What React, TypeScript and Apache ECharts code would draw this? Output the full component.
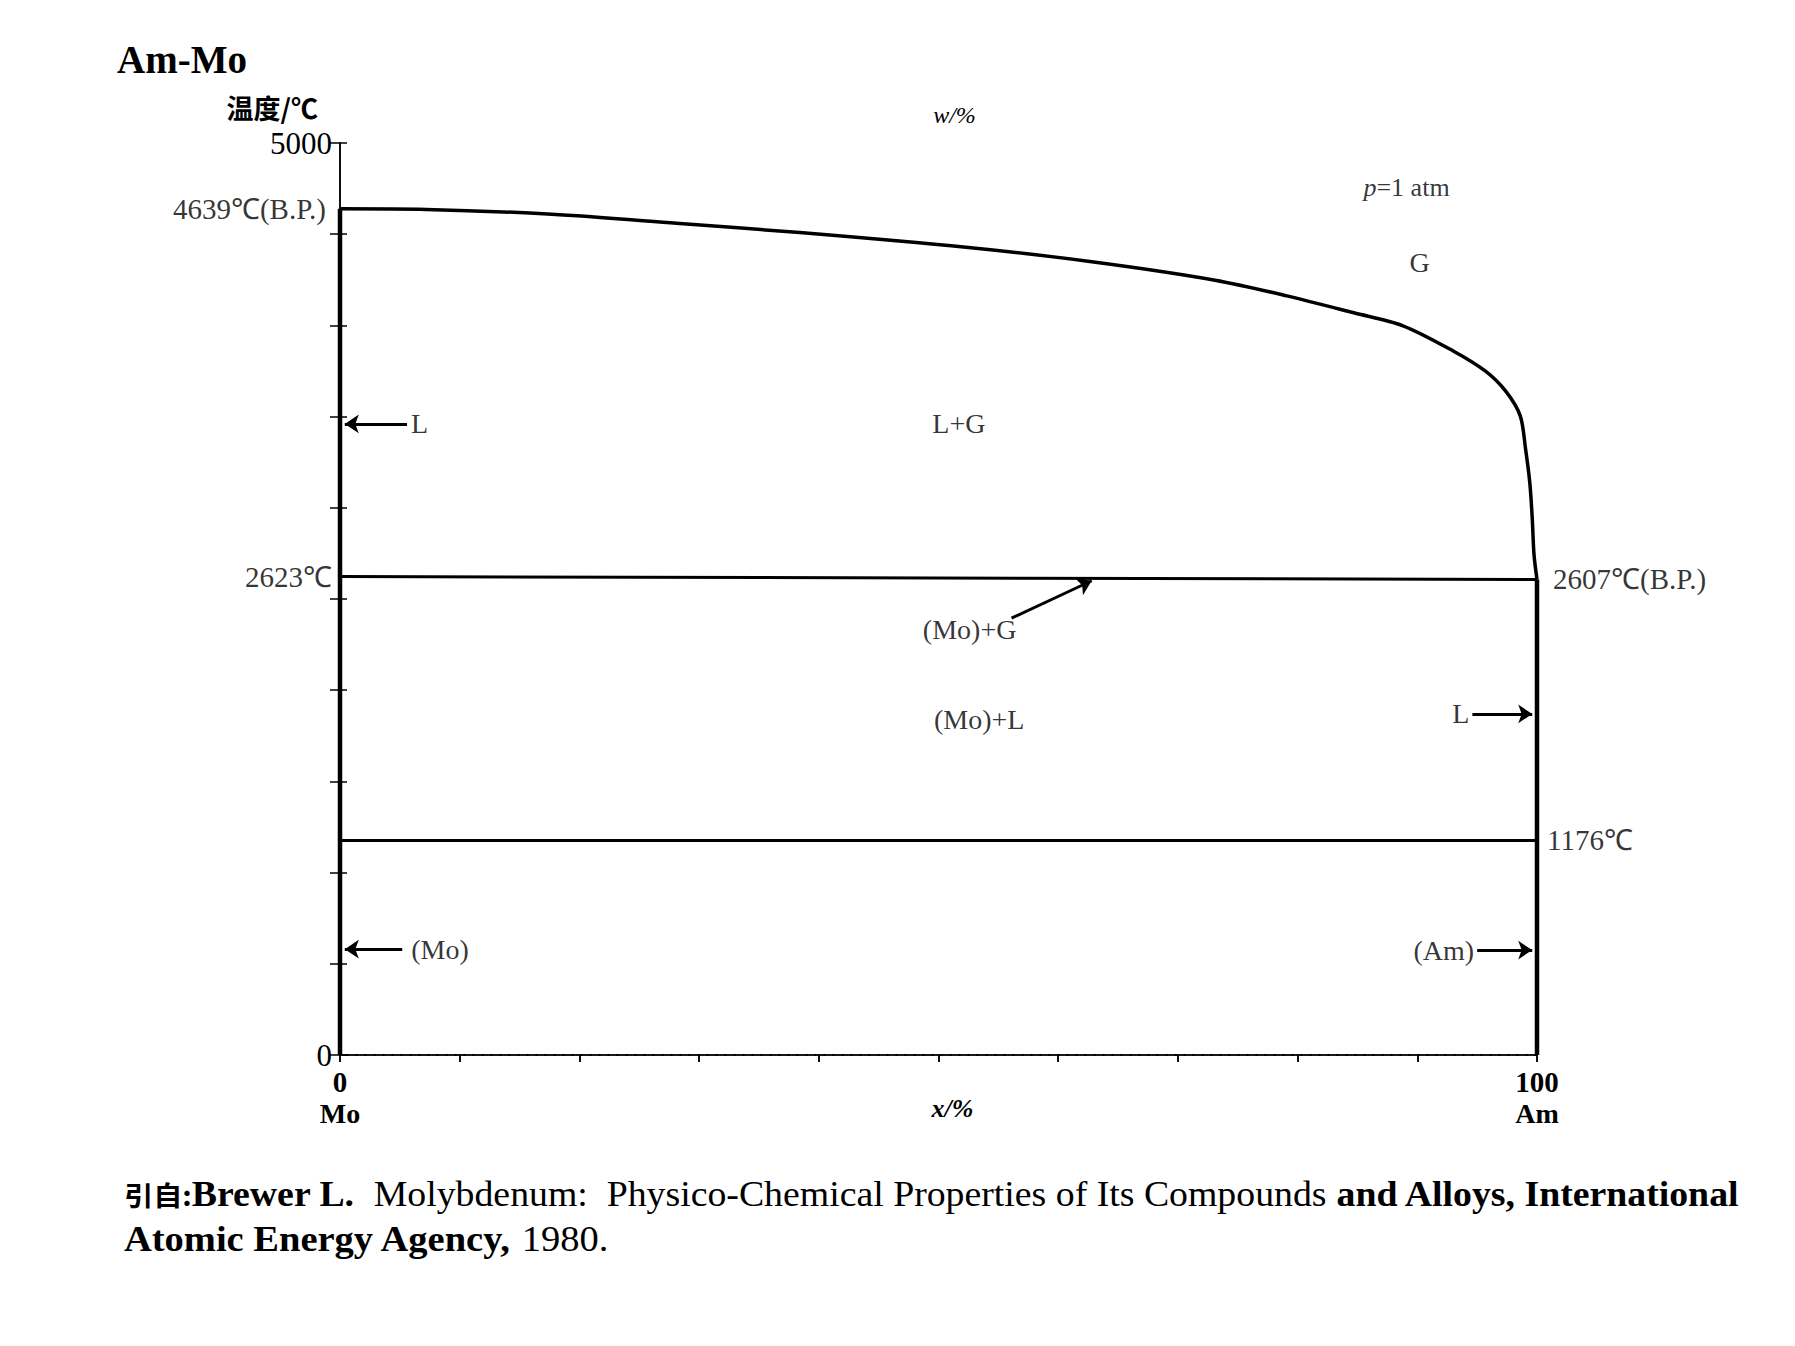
import React, { useEffect, useRef } from 'react';
import * as echarts from 'echarts';

// ---- data ----
const tempMin = 0;
const tempMax = 5000;
const tempStep = 500;
const compMin = 0;
const compMax = 100;
const compStep = 10;

// L / G boundary (x(Am) %, temperature °C)
const curveX = [0, 7.2, 17.7, 28.1, 38.4, 52.3, 62.8, 73.1, 79.1, 84.7, 88.8, 93.0, 95.7, 97.4, 98.6, 99.05, 99.4, 99.6, 99.75, 100];
const curveT = [4639, 4636, 4609, 4560, 4509, 4428, 4349, 4248, 4162, 4069, 3998, 3860, 3749, 3638, 3504, 3320, 3136, 2946, 2744, 2607];

const moBoilT = 4639;
const moMeltT = 2623;
const amBoilT = 2607;
const amMeltT = 1176;

// region labels
const noteText = ['L+G', '(Mo)+L', 'G', '{i|p}=1 atm', '(Mo)+G'];
const noteX = [51.7, 53.4, 90.2, 89.1, 52.6];
const noteT = [3462, 1841, 4344, 4755, 2331];

// arrows to the pure-element lines
const arrowText = ['L', '(Mo)', 'L', '(Am)'];
const arrowTailX = [5.6, 5.2, 94.6, 95.0];
const arrowTipX = [0.4, 0.4, 99.6, 99.6];
const arrowT = [3460, 580, 1870, 575];
const arrowSide = ['right', 'right', 'left', 'left'];
const arrowGap = [4, 9, 3, 3];

// (Mo)+G arrow
const gasArrowTail = [56.1, 2395];
const gasArrowTip = [62.8, 2600];

// point labels
const pointText = ['4639℃(B.P.)', '2623℃', '2607℃(B.P.)', '1176℃'];
const pointX = [0, 0, 100, 100];
const pointT = [4639, 2623, 2607, 1176];
const pointSide = ['left', 'left', 'right', 'right'];
const pointDist = [14, 8, 16, 10];

// citation text
const citeLine1 = '{c|引自:}{b|Brewer L.}{n|  Molybdenum:  Physico-Chemical Properties of Its Compounds }{b|and Alloys, International}';
const citeLine2 = '{b|Atomic Energy Agency,}{n| 1980.}';

const SERIF = '"Liberation Serif", "Times New Roman", serif';
const CJK = '"Noto Sans CJK SC", sans-serif';
const INK = '#000';

export default function App() {
  const ref = useRef<HTMLDivElement>(null);

  useEffect(() => {
    if (!ref.current) return;
    const chart = echarts.init(ref.current, undefined, { renderer: 'svg' });

    const labelFont = { fontFamily: SERIF, fontSize: 28, color: INK };
    const citeRich = {
      c: { fontFamily: CJK, fontSize: 27, fontWeight: 'bold', fill: INK },
      b: { fontFamily: SERIF, fontSize: 35, fontWeight: 'bold', fill: INK },
      n: { fontFamily: SERIF, fontSize: 35, fill: INK },
    };

    const option: any = {
      animation: false,
      backgroundColor: '#fff',
      grid: { left: 340, top: 143, width: 1197, height: 912, containLabel: false },
      xAxis: [
        {
          type: 'value',
          position: 'bottom',
          min: compMin,
          max: compMax,
          interval: compStep,
          name: 'x/%',
          nameLocation: 'middle',
          nameGap: 40,
          nameMoveOverlap: false,
          nameTextStyle: {
            fontFamily: SERIF,
            fontSize: 26,
            fontStyle: 'italic',
            fontWeight: 'bold',
            color: INK,
            padding: [0, 0, 0, 28],
          },
          axisLine: { lineStyle: { color: INK, width: 2 } },
          axisTick: { show: true, inside: false, length: 7, lineStyle: { color: INK, width: 1.5 } },
          splitLine: { show: false },
          axisLabel: {
            margin: 12,
            formatter: (v: number) => (v === compMin ? '{n|0}\n{e|Mo}' : v === compMax ? '{n|100}\n{e|Am}' : ''),
            rich: {
              n: { fontFamily: SERIF, fontSize: 29, fontWeight: 'bold', color: INK, lineHeight: 30 },
              e: { fontFamily: SERIF, fontSize: 28, fontWeight: 'bold', color: INK, lineHeight: 32 },
            },
          },
        },
        {
          type: 'value',
          position: 'top',
          min: compMin,
          max: compMax,
          interval: compStep,
          name: 'w/%',
          nameLocation: 'middle',
          nameGap: 16,
          nameMoveOverlap: false,
          nameTextStyle: { fontFamily: SERIF, fontSize: 24, fontStyle: 'italic', color: INK, padding: [0, 0, 0, 32] },
          axisLine: { lineStyle: { color: '#222', width: 1.5, type: 'dashed' } },
          axisTick: { show: true, inside: true, length: 7, lineStyle: { color: INK, width: 1.5 } },
          splitLine: { show: false },
          axisLabel: { show: false },
        },
      ],
      yAxis: [
        {
          type: 'value',
          position: 'left',
          min: tempMin,
          max: tempMax,
          interval: tempStep,
          name: '温度/℃',
          nameLocation: 'end',
          nameGap: 22,
          nameMoveOverlap: false,
          nameTextStyle: {
            fontFamily: CJK,
            fontSize: 27,
            fontWeight: 'bold',
            color: INK,
            align: 'right',
            padding: [0, 22, 0, 0],
          },
          axisLine: { show: true, lineStyle: { color: INK, width: 1.5 } },
          axisTick: { show: true, inside: false, length: 10, lineStyle: { color: INK, width: 1.5 } },
          splitLine: { show: false },
          axisLabel: {
            margin: 8,
            fontFamily: SERIF,
            fontSize: 31,
            color: INK,
            formatter: (v: number) => (v === tempMin || v === tempMax ? String(v) : ''),
          },
        },
        {
          type: 'value',
          position: 'right',
          min: tempMin,
          max: tempMax,
          interval: tempStep,
          axisLine: { show: true, lineStyle: { color: INK, width: 1.5 } },
          axisTick: { show: true, inside: false, length: 7, lineStyle: { color: INK, width: 1.5 } },
          splitLine: { show: false },
          axisLabel: { show: false },
        },
      ],
      series: [
        {
          name: 'Mo side',
          type: 'line',
          clip: false,
          symbol: 'none',
          data: [[0, 0], [0, moBoilT]],
          lineStyle: { color: INK, width: 4.5 },
        },
        {
          name: 'L/G boundary',
          type: 'line',
          clip: false,
          symbol: 'none',
          smooth: 0.3,
          data: curveX.map((x, i) => [x, curveT[i]]),
          lineStyle: { color: INK, width: 3.5 },
        },
        {
          name: 'Am side',
          type: 'line',
          clip: false,
          symbol: 'none',
          data: [[100, 0], [100, amBoilT]],
          lineStyle: { color: INK, width: 4.5 },
        },
        {
          name: 'Mo melting',
          type: 'line',
          clip: false,
          symbol: 'none',
          data: [[0, moMeltT], [100, amBoilT]],
          lineStyle: { color: INK, width: 3 },
        },
        {
          name: 'Am melting',
          type: 'line',
          clip: false,
          symbol: 'none',
          data: [[0, amMeltT], [100, amMeltT]],
          lineStyle: { color: INK, width: 3 },
        },
        {
          name: 'arrows',
          type: 'lines',
          coordinateSystem: 'cartesian2d',
          symbol: ['none', 'arrow'],
          symbolSize: [0, 14],
          lineStyle: { color: INK, width: 3, opacity: 1 },
          data: [
            ...arrowTailX.map((x, i) => ({ coords: [[x, arrowT[i]], [arrowTipX[i], arrowT[i]]] })),
            { coords: [gasArrowTail, gasArrowTip] },
          ],
        },
        {
          name: 'arrow labels',
          type: 'scatter',
          symbolSize: 0,
          data: arrowTailX.map((x, i) => ({
            value: [x, arrowT[i]],
            label: { show: true, position: arrowSide[i], distance: arrowGap[i], formatter: arrowText[i], ...labelFont },
          })),
        },
        {
          name: 'region labels',
          type: 'scatter',
          symbolSize: 0,
          data: noteX.map((x, i) => ({
            value: [x, noteT[i]],
            label: {
              show: true,
              position: 'inside',
              formatter: noteText[i],
              ...labelFont,
              fontSize: i === 3 ? 26 : 28,
              rich: { i: { fontFamily: SERIF, fontSize: 26, fontStyle: 'italic', color: INK } },
            },
          })),
        },
        {
          name: 'point labels',
          type: 'scatter',
          symbolSize: 0,
          data: pointX.map((x, i) => ({
            value: [x, pointT[i]],
            label: { show: true, position: pointSide[i], distance: pointDist[i], formatter: pointText[i], ...labelFont, fontSize: 29 },
          })),
        },
      ],
      graphic: [
        {
          type: 'text',
          left: 117,
          top: 40,
          style: { text: 'Am-Mo', font: `bold 39px ${SERIF}`, fill: INK },
        },
        {
          type: 'text',
          x: 124,
          y: 1194,
          scaleX: 1.08,
          style: { text: citeLine1, rich: citeRich, align: 'left', verticalAlign: 'middle' },
        },
        {
          type: 'text',
          x: 124,
          y: 1239,
          scaleX: 1.1,
          style: { text: citeLine2, rich: citeRich, align: 'left', verticalAlign: 'middle' },
        },
      ],
    };

    chart.setOption(option);
    return () => chart.dispose();
  }, []);

  return (
    <div
      ref={ref}
      style={{ position: 'fixed', left: 0, top: 0, width: 1795, height: 1346, background: '#fff' }}
    />
  );
}
